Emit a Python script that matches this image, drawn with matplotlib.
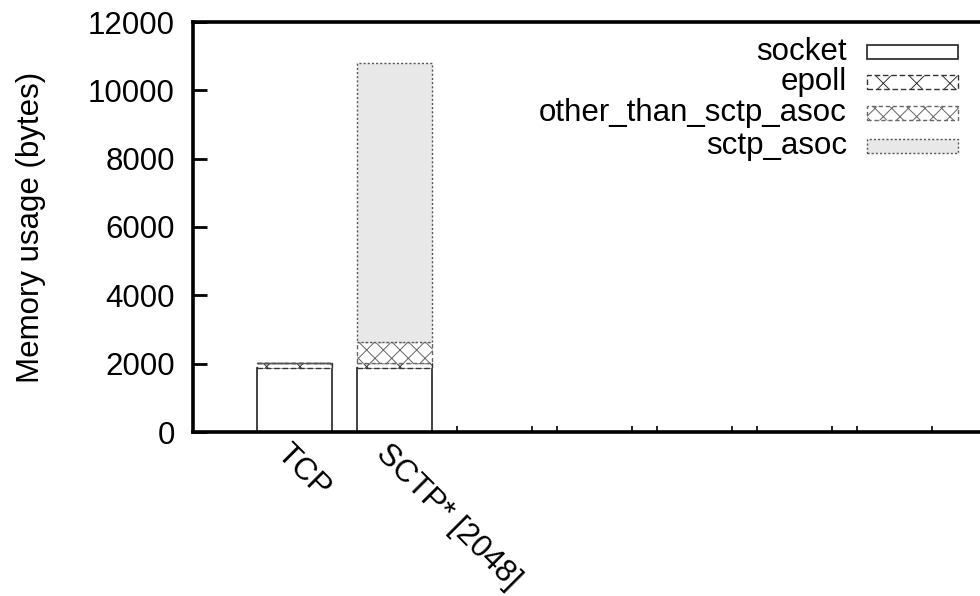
import matplotlib
matplotlib.use("Agg")
import matplotlib.pyplot as plt
from matplotlib.patches import Rectangle
from matplotlib.transforms import ScaledTranslation
import numpy as np

plt.rcParams['font.family'] = ['Liberation Sans', 'DejaVu Sans']
plt.rcParams['hatch.linewidth'] = 0.7

# ---- data ----
categories = ["TCP", "SCTP* [2048]"]
socket = [1860, 1870]
epoll = [150, 160]
other_than_sctp_asoc = [0, 590]
sctp_asoc = [0, 8180]
series_names = ["socket", "epoll", "other_than_sctp_asoc", "sctp_asoc"]
yticks = [0, 2000, 4000, 6000, 8000, 10000, 12000]
extra_xticks = [1.625, 2.375, 2.625, 3.375, 3.625, 4.375, 4.625, 5.375, 5.625]
tall_xtick = [6.375]

FS = 22.5
W, H = 980, 596
fig = plt.figure(figsize=(W / 100, H / 100), dpi=100)
ax_left, ax_right, ax_top, ax_bot = 193, 1005, 22, 432
ax = fig.add_axes([ax_left / W, 1 - ax_bot / H, (ax_right - ax_left) / W, (ax_bot - ax_top) / H])

x = np.arange(len(categories))
width = 0.75
styles = [
    dict(facecolor="white", edgecolor="#222222", linestyle="-", hatch=None, lw=1.2),
    dict(facecolor="white", edgecolor="#333333", linestyle=(0, (4, 2)), hatch="x", lw=1.0),
    dict(facecolor="white", edgecolor="#666666", linestyle=(0, (3, 2)), hatch="xx", lw=1.0),
    dict(facecolor="#e8e8e8", edgecolor="#555555", linestyle=(0, (1.5, 1.5)), hatch=None, lw=1.0),
]
series = [socket, epoll, other_than_sctp_asoc, sctp_asoc]
bottom = np.zeros(len(categories))
for vals, st in zip(series, styles):
    vals = np.array(vals, dtype=float)
    ax.bar(x, vals, width, bottom=bottom, facecolor=st["facecolor"], edgecolor=st["edgecolor"],
           linestyle=st["linestyle"], hatch=st["hatch"], linewidth=st["lw"], zorder=2)
    bottom += vals

ax.set_xlim(-1.015, (ax_right - 294.5) / 100)
ax.set_ylim(0, 12000)

# spines
for s in ["left", "bottom", "top"]:
    ax.spines[s].set_linewidth(2.6)
    ax.spines[s].set_zorder(3)
ax.spines["right"].set_visible(False)

ax.set_yticks(yticks)
ax.set_yticklabels([str(v) for v in yticks], fontsize=FS)
ax.tick_params(axis="y", direction="in", length=10, width=2, pad=13)

ax.set_xticks(list(x))
ax.set_xticklabels(categories, fontsize=FS, rotation=-45, ha="left", va="top",
                   rotation_mode="anchor")
ax.tick_params(axis="x", which="major", length=0, pad=5)
ax.set_xticks(extra_xticks + tall_xtick, minor=True)
ax.tick_params(axis="x", which="minor", direction="in", length=4, width=1.2)
off = ScaledTranslation(-3 / 100, 0, fig.dpi_scale_trans)
for lab in ax.get_xticklabels():
    lab.set_transform(lab.get_transform() + off)

ax.set_ylabel("Memory usage (bytes)", fontsize=FS, labelpad=30)

# ---- legend (manual, gnuplot style) ----
def fx(px):
    return px / W

def fy(py):
    return 1 - py / H

row_y = [52, 82, 113, 146]
for name, st, yc in zip(series_names, styles, row_y):
    fig.text(fx(847), fy(yc), name, fontsize=FS, ha="right", va="center")
    r = Rectangle((fx(867), fy(yc + 7)), fx(958) - fx(867), (14) / H,
                  transform=fig.transFigure, facecolor=st["facecolor"], edgecolor=st["edgecolor"],
                  linestyle=st["linestyle"], hatch=st["hatch"], linewidth=st["lw"], clip_on=False)
    fig.patches.append(r)

fig.savefig("out.png", dpi=100)
